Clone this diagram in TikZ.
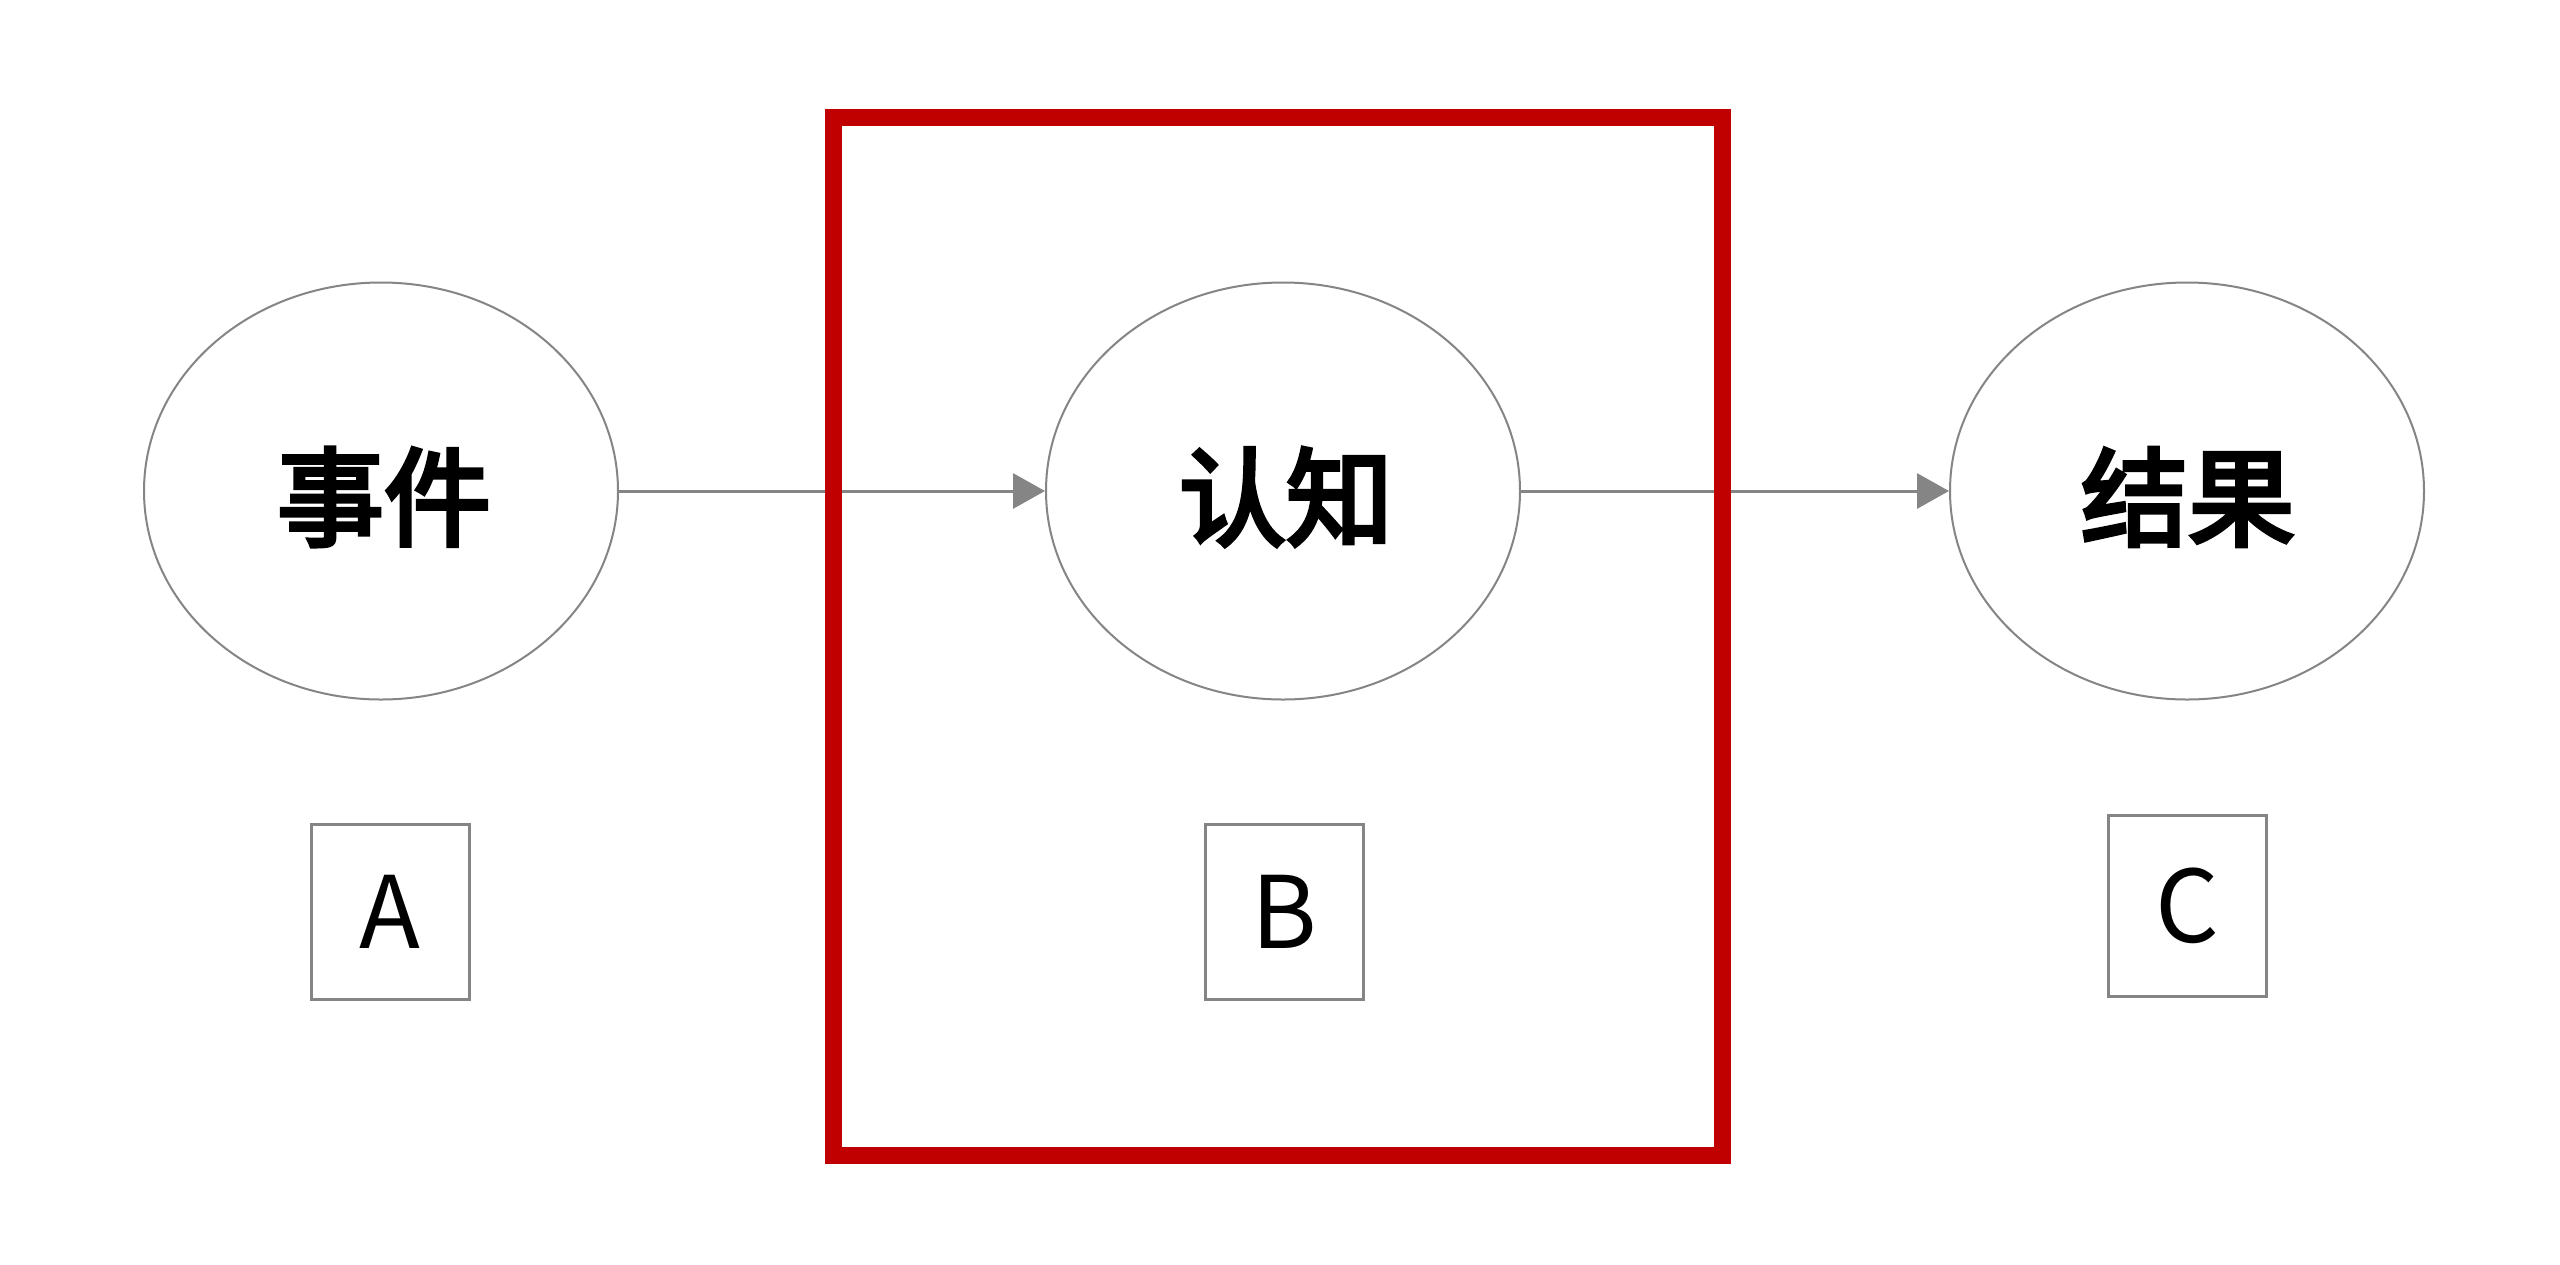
\documentclass[tikz,border=0pt]{standalone}
\usepackage{fontspec}
\newfontfamily\cjk{Noto Sans CJK SC}
\newfontfamily\cjkmed{Noto Sans CJK SC}[FakeBold=4]
\usetikzlibrary{shapes.geometric,arrows.meta}
\definecolor{boxred}{HTML}{C00000}
\definecolor{linegray}{HTML}{858585}
\begin{document}
\begin{tikzpicture}[x=1pt,y=-1pt,
  bubble/.style={ellipse,draw=linegray,line width=2pt,inner sep=0pt,
    minimum width=474pt,minimum height=417pt},
  bubbletext/.style={font=\cjkmed\fontsize{107}{125}\selectfont},
  tag/.style={rectangle,draw=linegray,line width=3pt,inner sep=0pt,
    minimum width=158pt,minimum height=175pt,
    font=\cjk\fontsize{100}{120}\selectfont},
  flow/.style={draw=linegray,line width=3pt,-{Triangle[length=32pt,width=35pt]}}]
\useasboundingbox (0,0) rectangle (2560,1264);
\fill[white] (0,0) rectangle (2560,1264);
\node[bubble] (e1) at (381,491) {};
\node[bubble] (e2) at (1283,491) {};
\node[bubble] (e3) at (2187,491) {};
\node[bubbletext] (l1) at (384,497) {事件};
\node[bubbletext] (l2) at (1286,497) {认知};
\node[bubbletext] (l3) at (2188,497) {结果};
\node[tag] (ta) at (390,912) {A};
\node[tag] (tb) at (1284,912) {B};
\node[tag,minimum height=181pt] (tc) at (2187,906) {C};
\draw[flow] (e1) -- (e2);
\draw[flow] (e2) -- (e3);
\draw[boxred,line width=17pt] (833,117) rectangle (1722,1155);
\end{tikzpicture}
\end{document}
